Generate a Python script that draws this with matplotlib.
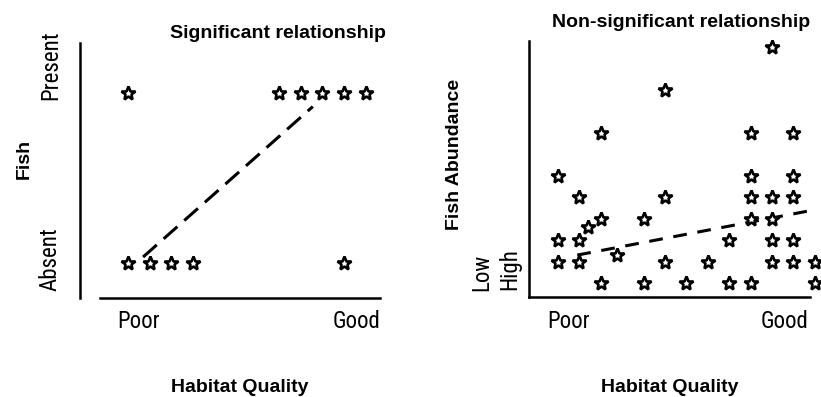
import matplotlib
matplotlib.use("Agg")
import matplotlib.pyplot as plt

# Significant relationship: fish presence (1) / absence (0) vs habitat quality
sig_quality = [0, 7, 8, 9, 10, 11, 0, 1, 2, 3, 10]
sig_fish = [1, 1, 1, 1, 1, 1, 0, 0, 0, 0, 0]
sig_trend_x = [0.7, 8.56]
sig_trend_y = [0.035, 0.92]

# Non-significant relationship: fish abundance vs habitat quality
ns_quality = [0, 0, 0, 1, 1, 1, 1.4, 2, 2, 2, 2.75, 4, 4, 5, 5, 5, 6, 7, 8, 8,
              9, 9, 9, 9, 9, 10, 10, 10, 10, 10, 11, 11, 11, 11, 11, 12, 12]
ns_abundance = [5, 2, 1, 4, 2, 1, 2.6, 7, 3, 0, 1.3, 3, 0, 9, 4, 1, 0, 1, 2, 0,
                7, 5, 4, 3, 0, 11, 4, 3, 2, 1, 7, 5, 4, 2, 1, 1, 0]
ns_trend_x = [0.9, 11.7]
ns_trend_y = [1.3, 3.35]

quality_ticks = [0.5, 10.6]
quality_labels = ["Poor", "Good"]

W, H = 821, 397
narrow = ["Roboto Condensed", "Liberation Sans"]
bold = dict(family="Liberation Sans", weight="bold", size=14)


def px_rect(left, top, right, bottom):
    return [left / W, 1 - bottom / H, (right - left) / W, (bottom - top) / H]


def px_text(x, y, s, **kw):
    fig.text(x / W, 1 - y / H, s, **kw)


def style_axes(ax):
    for side in ("top", "right"):
        ax.spines[side].set_visible(False)
    for side in ("left", "bottom"):
        ax.spines[side].set_linewidth(1.8)
    ax.tick_params(length=0)
    ax.set_xticks(quality_ticks, quality_labels, family=narrow, fontsize=16.5)
    ax.tick_params(axis="x", pad=9)


fig = plt.figure(figsize=(W / 100, H / 100), dpi=100)

# left panel
ax1 = fig.add_axes(px_rect(80, 43, 380, 298))
style_axes(ax1)
ax1.set_xlim(-2.22, 11.67)
ax1.set_ylim(-0.206, 1.294)
ax1.spines["bottom"].set_bounds(-1.3, 11.67)
ax1.plot(sig_trend_x, sig_trend_y, color="black", lw=2.2, ls="--", dashes=(6, 3))
ax1.plot(sig_quality, sig_fish, ls="none", marker="*", ms=10, mfc="white",
         mec="black", mew=1.9, clip_on=False, zorder=3)
ax1.set_yticks([0.024, 1.165], ["Absent", "Present"], family=narrow,
               fontsize=16.5, rotation=90, va="center")
ax1.tick_params(axis="y", pad=13)

# right panel
ax2 = fig.add_axes(px_rect(529, 41, 810, 297))
style_axes(ax2)
ax2.set_xlim(-1.355, 11.78)
ax2.set_ylim(-0.65, 11.26)
ax2.set_yticks([])
ax2.plot(ns_trend_x, ns_trend_y, color="black", lw=2.2, ls="--", dashes=(4.5, 3.5))
ax2.plot(ns_quality, ns_abundance, ls="none", marker="*", ms=10, mfc="white",
         mec="black", mew=1.9, clip_on=False, zorder=3)
px_text(482, 272, "Low", family=narrow, fontsize=16.5, rotation=90,
        ha="center", va="center")
px_text(510, 269, "High", family=narrow, fontsize=16.5, rotation=90,
        ha="center", va="center")

# titles and axis labels
px_text(278, 38, "Significant relationship", ha="center", va="baseline", **bold)
px_text(681, 27, "Non-significant relationship", ha="center", va="baseline", **bold)
px_text(240, 392, "Habitat Quality", ha="center", va="baseline", **bold)
px_text(670, 392, "Habitat Quality", ha="center", va="baseline", **bold)
px_text(24, 159, "Fish", rotation=90, ha="center", va="center", **bold)
px_text(454, 154, "Fish Abundance", rotation=90, ha="center", va="center", **bold)

fig.savefig("out.png", dpi=100)
